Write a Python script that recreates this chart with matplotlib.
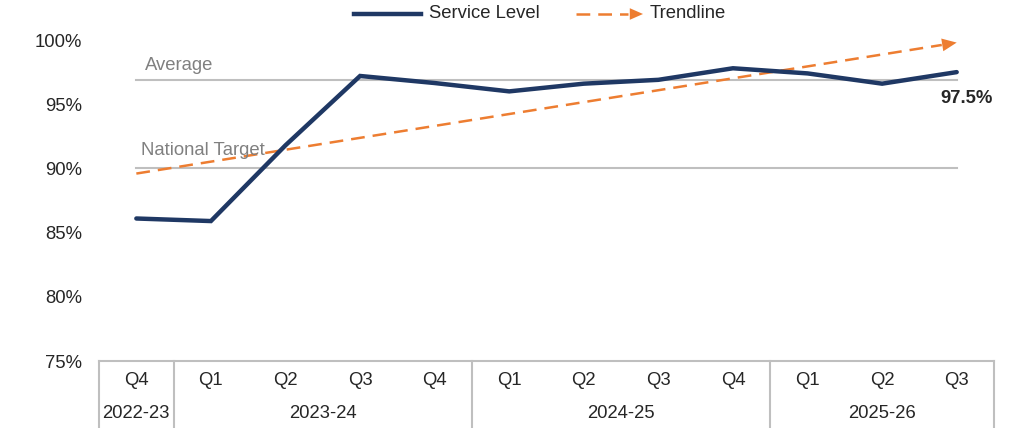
import matplotlib.pyplot as plt
from matplotlib.lines import Line2D
import matplotlib.transforms as mtransforms

# data
quarters = ['Q4', 'Q1', 'Q2', 'Q3', 'Q4', 'Q1', 'Q2', 'Q3', 'Q4', 'Q1', 'Q2', 'Q3']
years = ['2022-23', '2023-24', '2024-25', '2025-26']
year_sizes = [1, 4, 4, 3]
service_level = [86.1, 85.9, 91.8, 97.2, 96.65, 96.0, 96.6, 96.9, 97.8, 97.4, 96.6, 97.5]
average = 96.9
national_target = 90.0
trend_start = 89.6
trend_end = 99.8

navy = '#1F3864'
orange = '#ED7D31'
grey = '#BFBFBF'
text_col = '#262626'
dash = (0, (5.5, 3.2))
head = '-|>,head_length=0.5,head_width=0.22'
fs = 13.3

plt.rcParams['font.family'] = ['Liberation Sans', 'DejaVu Sans']

fig = plt.figure(figsize=(10.18, 4.28), dpi=100)
ax = fig.add_axes([0.0973, 0.1565, 0.8791, 0.75])

x = list(range(len(quarters)))
n = len(quarters)

# reference lines
ax.plot([0, n - 1], [average, average], color=grey, lw=1.5, zorder=1)
ax.plot([0, n - 1], [national_target, national_target], color=grey, lw=1.5, zorder=1)
ax.text(0.12, average + 0.45, 'Average', color='#808080', fontsize=fs, va='bottom', ha='left')
ax.text(0.06, national_target + 0.75, 'National Target', color='#808080', fontsize=fs,
        va='bottom', ha='left')

# trendline with arrow head
slope = (trend_end - trend_start) / (n - 1)
stop = n - 1.2
ax.plot([0, stop], [trend_start, trend_start + slope * stop], color=orange, lw=1.8,
        ls=dash, zorder=2)
ax.annotate('', xy=(n - 1, trend_end), xytext=(n - 1.3, trend_end - 0.3 * slope),
            arrowprops=dict(arrowstyle=head, color=orange, lw=0, mutation_scale=21,
                            shrinkA=0, shrinkB=0),
            zorder=3)

# service level
ax.plot(x, service_level, color=navy, lw=3.2, solid_joinstyle='miter',
        solid_capstyle='round', zorder=4)
ax.annotate('%.1f%%' % service_level[-1], xy=(x[-1], service_level[-1]),
            xytext=(7, -19), textcoords='offset points', ha='center', va='center',
            fontsize=fs, fontweight='bold', color=text_col)

ax.set_xlim(-0.5, n - 0.5)
ax.set_ylim(75, 100)
ax.set_yticks([75, 80, 85, 90, 95, 100])
ax.set_yticklabels(['%d%%' % v for v in [75, 80, 85, 90, 95, 100]])
ax.tick_params(axis='y', length=0, pad=12, labelsize=fs, labelcolor=text_col)
ax.set_xticks([])
for s in ax.spines.values():
    s.set_visible(False)

# category table under the axis
trans = mtransforms.blended_transform_factory(ax.transData, ax.transAxes)
ax.plot([-0.5, n - 0.5], [0, 0], color=grey, lw=1.5, transform=trans, clip_on=False)
edge = -0.5
edges = [edge]
for size in year_sizes:
    edge += size
    edges.append(edge)
for e in edges:
    ax.plot([e, e], [0, -0.215], color=grey, lw=1.5, transform=trans, clip_on=False)
for i, q in enumerate(quarters):
    ax.text(i, -0.062, q, transform=trans, ha='center', va='center', fontsize=fs,
            color=text_col)
for j, yr in enumerate(years):
    ax.text((edges[j] + edges[j + 1]) / 2, -0.165, yr, transform=trans, ha='center',
            va='center', fontsize=fs, color=text_col)

# legend, drawn by hand so the trendline key keeps its arrow head
W, H = 1018.0, 428.0
ly = 1 - 14 / H
fig.add_artist(Line2D([354 / W, 421 / W], [ly, ly], color=navy, lw=3.2,
                      transform=fig.transFigure))
fig.text(429 / W, ly, 'Service Level', fontsize=fs, color=text_col, va='center')
fig.add_artist(Line2D([576 / W, 628 / W], [ly, ly], color=orange, lw=1.8, ls=dash,
                      transform=fig.transFigure))
ax.annotate('', xy=(643 / W, ly), xytext=(627 / W, ly), xycoords='figure fraction',
            textcoords='figure fraction',
            arrowprops=dict(arrowstyle=head, color=orange, lw=0, mutation_scale=19,
                            shrinkA=0, shrinkB=0))
fig.text(650 / W, ly, 'Trendline', fontsize=fs, color=text_col, va='center')

plt.savefig('out.png', dpi=100)
plt.close()
